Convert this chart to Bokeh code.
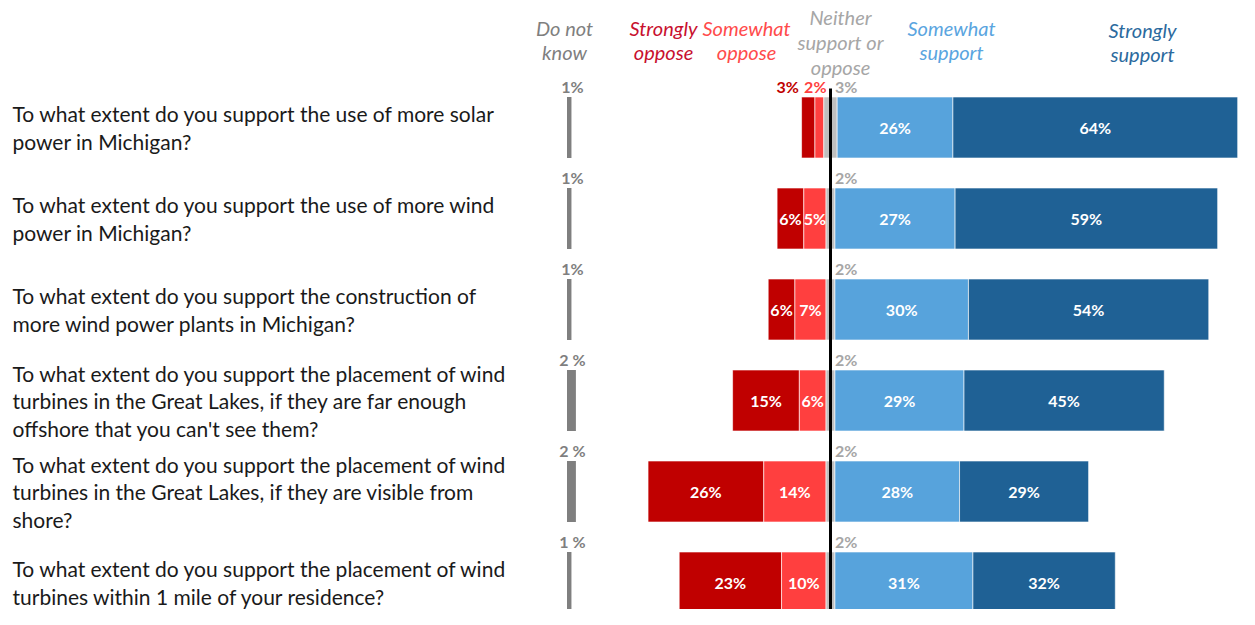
from bokeh.plotting import figure
from bokeh.models import Range1d, ColumnDataSource
from bokeh.embed import file_html
from bokeh.resources import INLINE
from bokeh.core.properties import value

# ---------------- data ----------------
questions = [
    "To what extent do you support the use of more solar\npower in Michigan?",
    "To what extent do you support the use of more wind\npower in Michigan?",
    "To what extent do you support the construction of\nmore wind power plants in Michigan?",
    "To what extent do you support the placement of wind\nturbines in the Great Lakes, if they are far enough\noffshore that you can't see them?",
    "To what extent do you support the placement of wind\nturbines in the Great Lakes, if they are visible from\nshore?",
    "To what extent do you support the placement of wind\nturbines within 1 mile of your residence?",
]
dont_know = [1, 1, 1, 2, 2, 1]
dont_know_labels = ["1%", "1%", "1%", "2 %", "2 %", "1 %"]
strongly_oppose = [3, 6, 6, 15, 26, 23]
somewhat_oppose = [2, 5, 7, 6, 14, 10]
neither = [3, 2, 2, 2, 2, 2]
somewhat_support = [26, 27, 30, 29, 28, 31]
strongly_support = [64, 59, 54, 45, 29, 32]
categories = ["Do not\nknow", "Strongly\noppose", "Somewhat\noppose",
              "Neither\nsupport or\noppose", "Somewhat\nsupport", "Strongly\nsupport"]

# ---------------- styles ----------------
FONT = "Lato"
C_DK = "#7f7f7f"
C_SO = "#c00000"
C_MO = "#ff3f3f"
C_NE = "#bfbfbf"
C_MS = "#57a3dc"
C_SS = "#1f6195"
header_colors = ["#7f7f7f", "#c8102e", "#ff4b4b", "#a6a6a6", "#5aa5e0", "#2b6a9e"]

W, H = 1239, 609
PX = 4.45         # pixels per percent
CX = 830          # px of the centre line
ROW = 91.0        # pixels per row
R0 = 127.0        # px of first row centre
BH = 61 / ROW     # bar height in rows


def px2x(px):
    return (px - CX) / PX


def py2y(py):
    return (py - R0) / ROW


p = figure(width=W, height=H,
           x_range=Range1d(-CX / PX, (W - CX) / PX),
           y_range=Range1d((H - R0) / ROW, -R0 / ROW),
           output_backend="svg", toolbar_location=None, min_border=0)
p.axis.visible = False
p.grid.visible = False
p.outline_line_color = None
p.background_fill_color = "white"
p.border_fill_color = "white"

n = len(questions)
rows = list(range(n))

# segment edges
ne_l = [-v / 2 for v in neither]
ne_r = [v / 2 for v in neither]
mo_l = [ne_l[i] - somewhat_oppose[i] for i in rows]
so_l = [mo_l[i] - strongly_oppose[i] for i in rows]
ms_r = [ne_r[i] + somewhat_support[i] for i in rows]
ss_r = [ms_r[i] + strongly_support[i] for i in rows]

segs = [
    (so_l, mo_l, C_SO),
    (mo_l, ne_l, C_MO),
    (ne_l, ne_r, C_NE),
    (ne_r, ms_r, C_MS),
    (ms_r, ss_r, C_SS),
]
for l, r, c in segs:
    p.hbar(y=rows, left=l, right=r, height=BH, fill_color=c,
           line_color="white", line_width=1, line_alpha=0.6)

# centre line
p.segment(x0=[0], y0=[py2y(88)], x1=[0], y1=[py2y(640)], line_color="black", line_width=3)

# don't know bars
DKX = px2x(566.5)
p.hbar(y=rows, left=[DKX] * n, right=[DKX + v for v in dont_know], height=BH,
       fill_color=C_DK, line_color=None)
LAB_DY = -41.5 / ROW
p.text(x=[px2x(572)] * n, y=[r + LAB_DY for r in rows], text=dont_know_labels,
       text_font=value(FONT), text_font_size="16px", text_font_style="bold",
       text_color=C_DK, text_align="center", text_baseline="middle")

# in-bar labels and above-bar labels
in_x, in_y, in_t = [], [], []
ab_x, ab_y, ab_t, ab_c, ab_a = [], [], [], [], []
for i in rows:
    for val, l, r in [(strongly_oppose[i], so_l[i], mo_l[i]),
                      (somewhat_oppose[i], mo_l[i], ne_l[i]),
                      (somewhat_support[i], ne_r[i], ms_r[i]),
                      (strongly_support[i], ms_r[i], ss_r[i])]:
        if val >= 5:
            in_x.append((l + r) / 2)
            in_y.append(i)
            in_t.append(f"{val}%")
    if strongly_oppose[i] < 5:
        ab_x.append(so_l[i] - 0.6)
        ab_y.append(i + LAB_DY)
        ab_t.append(f"{strongly_oppose[i]}%")
        ab_c.append(C_SO)
        ab_a.append("right")
    if somewhat_oppose[i] < 5:
        ab_x.append(ne_l[i] + 0.6)
        ab_y.append(i + LAB_DY)
        ab_t.append(f"{somewhat_oppose[i]}%")
        ab_c.append(C_MO)
        ab_a.append("right")
    ab_x.append(1.0)
    ab_y.append(i + LAB_DY)
    ab_t.append(f"{neither[i]}%")
    ab_c.append("#a6a6a6")
    ab_a.append("left")

p.text(x=in_x, y=in_y, text=in_t, text_font=value(FONT), text_font_size="16px",
       text_font_style="bold", text_color="white", text_align="center",
       text_baseline="middle")
p.text(x="x", y="y", text="t", text_color="c", text_align="a",
       source=ColumnDataSource(dict(x=ab_x, y=ab_y, t=ab_t, c=ab_c, a=ab_a)),
       text_font=value(FONT), text_font_size="16px", text_font_style="bold",
       text_baseline="middle")

# question labels
p.text(x=[px2x(12)] * n, y=rows, text=questions, text_font=value(FONT),
       text_font_size="21px", text_color="#1a1a1a", text_align="left",
       text_baseline="middle", text_line_height=1.1)

# headers
hx = [564, 663, 746, 840, 951, 1142]
hy = [39.5, 39.5, 39.5, 41.5, 39.5, 41.5]
p.text(x="x", y="y", text="t", text_color="c",
       source=ColumnDataSource(dict(x=[px2x(v) for v in hx], y=[py2y(v) for v in hy],
                                    t=categories, c=header_colors)),
       text_font=value(FONT), text_font_size="20px", text_font_style="italic",
       text_align="center", text_baseline="middle", text_line_height=1.04)

open("out.html", "w").write(file_html(p, INLINE))
